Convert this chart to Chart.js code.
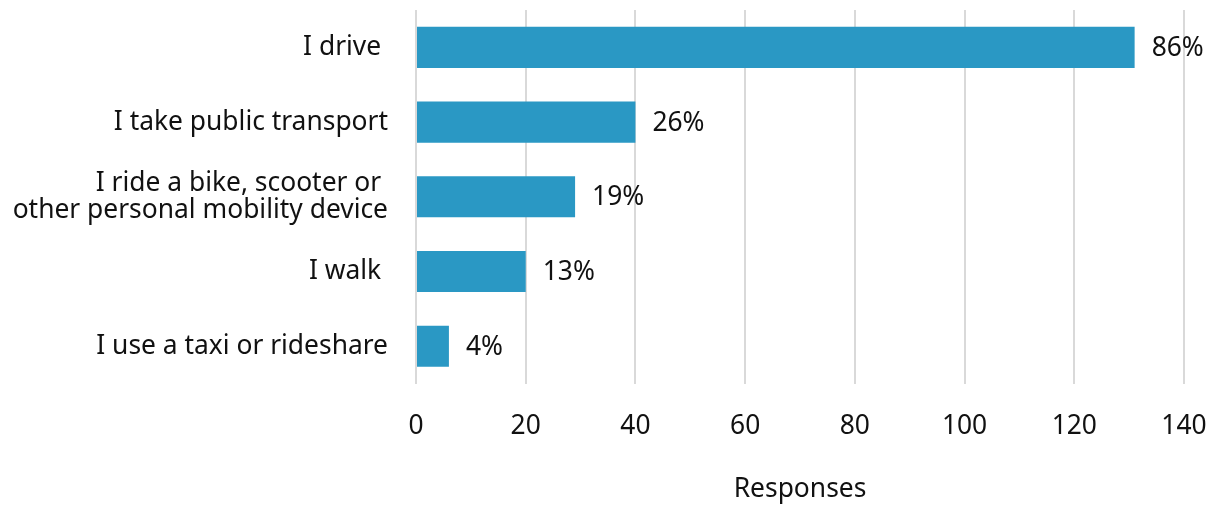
<!DOCTYPE html>
<html>
    <head>
        <title>Travel mode</title>
        <meta name="viewport" content="width=device-width, initial-scale=1">
        <style>
            html, body { margin: 0; padding: 0; background: #ffffff; }
            .chart-wrap { width: 1209px; height: 505px; }
        </style>
    </head>
    <body>
        <div class="chart-wrap">
            <canvas id="modeChart"></canvas>
        </div>
        <script src="https://cdn.jsdelivr.net/npm/chart.js"></script>
        <script>
            const categories = [
                'I drive ',
                'I take public transport',
                ['I ride a bike, scooter or ', 'other personal mobility device'],
                'I walk ',
                'I use a taxi or rideshare'
            ];
            const responses = [131, 40, 29, 20, 6];
            const shareLabels = ['86%', '26%', '19%', '13%', '4%'];

            // writes the share text just past the end of each bar
            const shareText = {
                id: 'shareText',
                afterDatasetsDraw(chart) {
                    const ctx = chart.ctx;
                    const meta = chart.getDatasetMeta(0);
                    ctx.save();
                    ctx.font = '26.4px "Noto Sans"';
                    ctx.fillStyle = '#111111';
                    ctx.textAlign = 'left';
                    ctx.textBaseline = 'middle';
                    meta.data.forEach((bar, i) => {
                        ctx.fillText(shareLabels[i], bar.x + 17, bar.y + 1);
                    });
                    ctx.restore();
                }
            };

            Chart.defaults.font.family = '"Noto Sans", "Open Sans", sans-serif';
            Chart.defaults.color = '#111111';

            const modeChart = new Chart(document.getElementById('modeChart'), {
                type: 'bar',
                data: {
                    labels: categories,
                    datasets: [{
                        data: responses,
                        backgroundColor: '#2a98c4',
                        borderWidth: 0,
                        barPercentage: 0.55,
                        categoryPercentage: 1
                    }]
                },
                options: {
                    indexAxis: 'y',
                    responsive: true,
                    maintainAspectRatio: false,
                    animation: false,
                    layout: { padding: { top: 10, right: 25, bottom: 0, left: 6 } },
                    plugins: {
                        legend: { display: false },
                        tooltip: { enabled: false }
                    },
                    scales: {
                        x: {
                            min: 0,
                            max: 140,
                            ticks: { stepSize: 20, font: { size: 26.4 }, padding: 27 },
                            grid: { color: '#d9d9d9', lineWidth: 2, drawTicks: false },
                            border: { display: false },
                            title: {
                                display: true,
                                text: 'Responses',
                                font: { size: 26.4 },
                                padding: { top: 4, bottom: 0 }
                            },
                            // let the end labels hang into the outer padding
                            afterFit(scale) {
                                scale.paddingLeft = 0;
                                scale.paddingRight = 0;
                            }
                        },
                        y: {
                            ticks: { font: { size: 26.4, lineHeight: 1.03 }, padding: 28 },
                            grid: { display: false, drawTicks: false },
                            border: { display: false },
                            // fixed label column, no extra room above/below for the tall label
                            afterFit(scale) {
                                scale.width = 410;
                                scale.paddingTop = 0;
                                scale.paddingBottom = 0;
                            }
                        }
                    }
                },
                plugins: [shareText]
            });
        </script>
    </body>
</html>
